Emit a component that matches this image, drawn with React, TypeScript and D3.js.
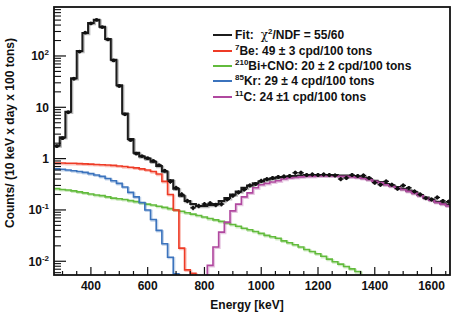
import * as React from 'react';
import * as d3 from 'd3';

// energy binning of the spectrum (keV)
const binStart = 270;
const binWidth = 20;

// total fit, counts / (10 keV x day x 100 tons), one value per 20 keV bin
const fitTotal = [
  1.8, 2.6, 8.2, 37, 125, 280, 440, 510, 370, 215,
  84, 27, 7.6, 2.4, 1.3, 1.1, 1.0, 0.87, 0.72, 0.56,
  0.38, 0.26, 0.19, 0.15, 0.13, 0.12, 0.12, 0.125, 0.13, 0.15,
  0.17, 0.2, 0.23, 0.27, 0.3, 0.33, 0.36, 0.39, 0.41, 0.43,
  0.44, 0.45, 0.46, 0.47, 0.48, 0.48, 0.48, 0.48, 0.48, 0.48,
  0.47, 0.47, 0.46, 0.45, 0.43, 0.4, 0.37, 0.35, 0.32, 0.3,
  0.28, 0.26, 0.24, 0.22, 0.195, 0.175, 0.16, 0.145, 0.135, 0.125,
];

// measured spectrum
const dataPoints = [
  1.75, 2.5, 8.0, 36, 122, 285, 430, 505, 365, 210,
  82, 26, 7.3, 2.3, 1.25, 1.12, 1.02, 0.9, 0.75, 0.58,
  0.36, 0.27, 0.2, 0.15, 0.11, 0.12, 0.13, 0.135, 0.125, 0.13,
  0.16, 0.19, 0.22, 0.25, 0.3, 0.32, 0.37, 0.4, 0.42, 0.44,
  0.45, 0.46, 0.53, 0.53, 0.48, 0.49, 0.48, 0.49, 0.48, 0.47,
  0.4, 0.42, 0.48, 0.46, 0.47, 0.42, 0.34, 0.31, 0.36, 0.31,
  0.26, 0.3, 0.27, 0.23, 0.2, 0.17, 0.16, 0.175, 0.15, 0.145,
];

// relative statistical error of each point
const dataRelErr = [
  0.06, 0.06, 0.03, 0.015, 0.015, 0.015, 0.015, 0.015, 0.015, 0.015,
  0.015, 0.015, 0.03, 0.04, 0.05, 0.05, 0.05, 0.05, 0.05, 0.05,
  0.1, 0.1, 0.1, 0.1, 0.1, 0.1, 0.1, 0.1, 0.1, 0.1,
  0.09, 0.09, 0.09, 0.09, 0.09, 0.09, 0.09, 0.09, 0.09, 0.09,
  0.09, 0.09, 0.09, 0.09, 0.09, 0.09, 0.09, 0.09, 0.09, 0.09,
  0.09, 0.09, 0.09, 0.09, 0.09, 0.09, 0.09, 0.09, 0.09, 0.09,
  0.09, 0.09, 0.09, 0.09, 0.09, 0.09, 0.09, 0.09, 0.09, 0.09,
];

const be7 = [
  0.82, 0.82, 0.81, 0.81, 0.8, 0.79, 0.78, 0.77, 0.76, 0.75,
  0.74, 0.72, 0.7, 0.68, 0.66, 0.63, 0.6, 0.56, 0.5, 0.36,
  0.2, 0.1, 0.018, 0.0068, 0.0058, 0, 0, 0, 0, 0,
  0, 0, 0, 0, 0, 0, 0, 0, 0, 0,
  0, 0, 0, 0, 0, 0, 0, 0, 0, 0,
  0, 0, 0, 0, 0, 0, 0, 0, 0, 0,
  0, 0, 0, 0, 0, 0, 0, 0, 0, 0,
];

const biCno = [
  0.26, 0.25, 0.245, 0.235, 0.225, 0.215, 0.205, 0.195, 0.19, 0.18,
  0.17, 0.165, 0.16, 0.152, 0.145, 0.138, 0.13, 0.125, 0.118, 0.112,
  0.106, 0.1, 0.094, 0.088, 0.083, 0.078, 0.073, 0.068, 0.064, 0.06,
  0.056, 0.052, 0.048, 0.044, 0.041, 0.038, 0.035, 0.032, 0.03, 0.028,
  0.025, 0.023, 0.021, 0.019, 0.017, 0.0155, 0.014, 0.0125, 0.011, 0.0098,
  0.0088, 0.0079, 0.0071, 0.0063, 0, 0, 0, 0, 0, 0,
  0, 0, 0, 0, 0, 0, 0, 0, 0, 0,
];

const kr85 = [
  0.63, 0.62, 0.6, 0.58, 0.56, 0.54, 0.51, 0.48, 0.45, 0.41,
  0.37, 0.33, 0.28, 0.22, 0.18, 0.14, 0.1, 0.065, 0.04, 0.022,
  0.012, 0.0057, 0, 0, 0, 0, 0, 0, 0, 0,
  0, 0, 0, 0, 0, 0, 0, 0, 0, 0,
  0, 0, 0, 0, 0, 0, 0, 0, 0, 0,
  0, 0, 0, 0, 0, 0, 0, 0, 0, 0,
  0, 0, 0, 0, 0, 0, 0, 0, 0, 0,
];

const c11 = [
  0, 0, 0, 0, 0, 0, 0, 0, 0, 0,
  0, 0, 0, 0, 0, 0, 0, 0, 0, 0,
  0, 0, 0, 0, 0, 0, 0, 0.0083, 0.019, 0.037,
  0.058, 0.096, 0.13, 0.18, 0.215, 0.27, 0.31, 0.33, 0.35, 0.37,
  0.4, 0.42, 0.43, 0.44, 0.45, 0.45, 0.46, 0.46, 0.46, 0.46,
  0.45, 0.45, 0.44, 0.43, 0.41, 0.39, 0.36, 0.34, 0.31, 0.29,
  0.27, 0.25, 0.23, 0.21, 0.19, 0.17, 0.155, 0.14, 0.13, 0.12,
];

const xTicks = d3.range(300, 1665, 50);
const xLabels = [400, 600, 800, 1000, 1200, 1400, 1600];
const yMajor = [0.01, 0.1, 1, 10, 100];
const yMajorBase = ['10', '10', '1', '10', '10'];
const yMajorExp = ['-2', '-1', '', '', '2'];

const colFit = '#1c1c1c';
const colBe = '#ee3b26';
const colBi = '#62bb3c';
const colKr = '#3b73bd';
const colC = '#b0489f';

const W = 458, H = 315;
const left = 54, right = 450, top = 7, bottom = 275;
const font = '"Liberation Sans", Arial, Helvetica, sans-serif';

const x = d3.scaleLinear().domain([270, 1665]).range([left, right]);
const y = d3.scaleLog().domain([0.0054, 900]).range([bottom, top]);

function stepPath(values: number[]) {
  const pts: [number, number][] = [];
  values.forEach((v, i) => {
    const lo = binStart + i * binWidth;
    const yy = v > 0 ? y(v) : bottom + 6;
    pts.push([x(lo), yy], [x(lo + binWidth), yy]);
  });
  return d3.line()(pts) || '';
}

function Hist({ values, color, width }: { values: number[]; color: string; width: number }) {
  const d = stepPath(values);
  return (
    <g>
      <path d={d} fill="none" stroke={color} strokeOpacity={0.3} strokeWidth={width + 0.6} transform="translate(1,1)" />
      <path d={d} fill="none" stroke={color} strokeWidth={width} />
    </g>
  );
}

export default function App() {
  const minorY: number[] = [];
  for (let e = -3; e <= 2; e++) {
    for (let k = 2; k <= 9; k++) {
      const v = k * Math.pow(10, e);
      if (v > 0.0054 && v < 900) minorY.push(v);
    }
  }

  const legend = [
    { color: colFit, y: 35 },
    { color: colBe, y: 51 },
    { color: colBi, y: 66 },
    { color: colKr, y: 81 },
    { color: colC, y: 97 },
  ];
  const sup = { fontSize: 8, baselineShift: '5px' } as any;

  return (
    <svg width={W} height={H} style={{ position: 'absolute', left: 0, top: 0, background: '#fff' }}
      fontFamily={font} fontWeight="bold">
      <defs>
        <clipPath id="plotClip">
          <rect x={left} y={top} width={right - left} height={bottom - top} />
        </clipPath>
      </defs>

      <g clipPath="url(#plotClip)">
        <Hist values={fitTotal} color={colFit} width={2} />
        <Hist values={biCno} color={colBi} width={1.6} />
        <Hist values={kr85} color={colKr} width={1.6} />
        <Hist values={be7} color={colBe} width={1.6} />
        <Hist values={c11} color={colC} width={1.6} />

        {dataPoints.map((v, i) => {
          const lo = binStart + i * binWidth;
          const cx = x(lo + binWidth / 2);
          const cy = y(v);
          const e = dataRelErr[i];
          return (
            <g key={i} stroke="#111" strokeWidth={1.3}>
              <line x1={cx} x2={cx} y1={y(v * (1 + e))} y2={y(v * (1 - e))} />
              <line x1={x(lo)} x2={x(lo + binWidth)} y1={cy} y2={cy} />
              <circle cx={cx} cy={cy} r={1.9} fill="#111" stroke="none" />
            </g>
          );
        })}
      </g>

      {/* y axis ticks */}
      {yMajor.map((v, i) => (
        <g key={'ym' + i}>
          <line x1={left} x2={left + 12} y1={y(v)} y2={y(v)} stroke="#111" strokeWidth={1.2} />
          <text x={49} y={y(v) + 4.5} textAnchor="end" fontSize={12} fill="#111">
            {yMajorBase[i]}
            {yMajorExp[i] !== '' && <tspan style={sup}>{yMajorExp[i]}</tspan>}
          </text>
        </g>
      ))}
      {minorY.map((v, i) => (
        <line key={'yn' + i} x1={left} x2={left + 7} y1={y(v)} y2={y(v)} stroke="#111" strokeWidth={1.1} />
      ))}

      {/* x axis ticks */}
      {xTicks.map((v) => {
        const major = xLabels.includes(v);
        return (
          <line key={'xt' + v} x1={x(v)} x2={x(v)} y1={bottom} y2={bottom - (major ? 8 : 4)}
            stroke="#111" strokeWidth={1.2} />
        );
      })}
      {xLabels.map((v) => (
        <text key={'xl' + v} x={x(v)} y={290} textAnchor="middle" fontSize={12} fill="#111">{v}</text>
      ))}

      <rect x={left} y={top} width={right - left} height={bottom - top} fill="none" stroke="#111" strokeWidth={1.8} />

      <text x={247} y={309} textAnchor="middle" fontSize={12} fill="#111">Energy [keV]</text>
      <text transform="translate(14,133) rotate(-90)" textAnchor="middle" fontSize={12} fill="#111">
        Counts/ (10 keV x day x 100 tons)
      </text>

      {/* legend */}
      {legend.map((r, i) => (
        <line key={'lg' + i} x1={213} x2={232} y1={r.y} y2={r.y} stroke={r.color} strokeWidth={2} />
      ))}
      <g fontSize={12} fill="#111">
        <text x={235} y={39}>Fit:<tspan dx={7} fontWeight="normal" fontFamily='"DejaVu Serif", serif'>χ</tspan><tspan style={sup}>2</tspan>/NDF = 55/60</text>
        <text x={235} y={55}><tspan style={sup}>7</tspan>Be: 49 ± 3 cpd/100 tons</text>
        <text x={235} y={70}><tspan style={sup}>210</tspan>Bi+CNO: 20 ± 2 cpd/100 tons</text>
        <text x={235} y={85}><tspan style={sup}>85</tspan>Kr: 29 ± 4 cpd/100 tons</text>
        <text x={235} y={101}><tspan style={sup}>11</tspan>C: 24 ±1 cpd/100 tons</text>
      </g>
    </svg>
  );
}
